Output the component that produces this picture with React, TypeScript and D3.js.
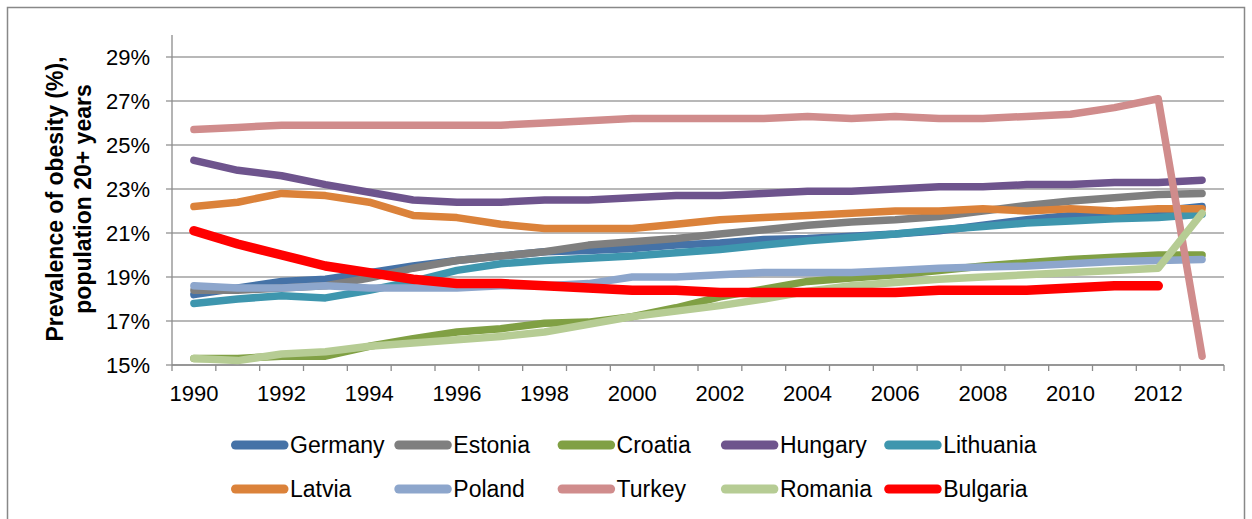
import React from "react";
import * as d3 from "d3";

const years = [1990,1991,1992,1993,1994,1995,1996,1997,1998,1999,2000,2001,2002,2003,2004,2005,2006,2007,2008,2009,2010,2011,2012,2013];
const xTickLabels = [1990,1992,1994,1996,1998,2000,2002,2004,2006,2008,2010,2012];
const yTicks = [15,17,19,21,23,25,27,29];

const germany = [18.2,18.5,18.8,18.9,19.2,19.5,19.75,19.95,20.15,20.2,20.3,20.45,20.55,20.7,20.75,20.85,20.95,21.1,21.35,21.6,21.8,21.9,22.0,22.2];
const estonia = [18.4,18.4,18.5,18.6,18.95,19.4,19.75,19.95,20.15,20.45,20.6,20.75,20.95,21.15,21.35,21.5,21.6,21.75,22.0,22.25,22.45,22.6,22.75,22.8];
const croatia = [15.3,15.3,15.4,15.4,15.85,16.2,16.5,16.65,16.9,16.95,17.2,17.6,18.1,18.45,18.8,18.95,19.1,19.3,19.5,19.65,19.8,19.9,20.0,20.0];
const hungary = [24.3,23.85,23.6,23.2,22.85,22.5,22.4,22.4,22.5,22.5,22.6,22.7,22.7,22.8,22.9,22.9,23.0,23.1,23.1,23.2,23.2,23.3,23.3,23.4];
const lithuania = [17.8,18.0,18.15,18.05,18.4,18.8,19.3,19.6,19.75,19.85,19.95,20.1,20.25,20.45,20.65,20.8,20.95,21.15,21.3,21.45,21.55,21.65,21.7,21.85];
const latvia = [22.2,22.4,22.8,22.7,22.4,21.8,21.7,21.4,21.2,21.2,21.2,21.4,21.6,21.7,21.8,21.9,22.0,22.0,22.1,22.0,22.1,22.0,22.1,22.1];
const poland = [18.6,18.5,18.5,18.6,18.5,18.5,18.5,18.6,18.6,18.7,19.0,19.0,19.1,19.2,19.2,19.2,19.3,19.4,19.45,19.5,19.6,19.7,19.75,19.8];
const turkey = [25.7,25.8,25.9,25.9,25.9,25.9,25.9,25.9,26.0,26.1,26.2,26.2,26.2,26.2,26.3,26.2,26.3,26.2,26.2,26.3,26.4,26.7,27.1,15.4];
const romania = [15.3,15.2,15.5,15.6,15.85,16.0,16.15,16.3,16.5,16.85,17.2,17.45,17.7,18.0,18.35,18.6,18.75,18.9,19.0,19.1,19.2,19.3,19.4,21.9];
const bulgaria = [21.1,20.5,20.0,19.5,19.2,18.9,18.7,18.7,18.6,18.5,18.4,18.4,18.3,18.3,18.3,18.3,18.3,18.4,18.4,18.4,18.5,18.6,18.6,null];

const seriesNames = ["Germany","Estonia","Croatia","Hungary","Lithuania","Latvia","Poland","Turkey","Romania","Bulgaria"];
const seriesValues = [germany,estonia,croatia,hungary,lithuania,latvia,poland,turkey,romania,bulgaria];
const seriesColors = ["#4572A7","#7F7F7F","#80A044","#6E548D","#3E96AE","#DB823A","#8DA6CC","#D08C8C","#B6CC94","#FF0000"];
const seriesWidths = [7.5,7.5,7.5,7.5,7.5,7.5,7.5,7.5,7.5,9.5];

const FONT = "'Liberation Sans', Arial, sans-serif";

export default function App() {
  const left = 172, right = 1224, top = 35, bottom = 365;
  const x = d3.scaleBand<number>().domain(years).range([left, right]).paddingInner(0).paddingOuter(0);
  const y = d3.scaleLinear().domain([15, 30]).range([bottom, top]);
  const cx = (yr: number) => (x(yr) as number) + x.bandwidth() / 2;

  const line = d3
    .line<{ yr: number; v: number | null }>()
    .defined((d) => d.v !== null)
    .x((d) => cx(d.yr))
    .y((d) => y(d.v as number));

  const boundaries = [...years.map((yr) => x(yr) as number), right];

  return (
    <svg width={1252} height={519} style={{ position: "absolute", left: 0, top: 0, background: "#fff" }} fontFamily={FONT}>
      <rect x={0} y={0} width={1252} height={519} fill="#fff" />
      <path d={`M7.5,530 V7.5 H1244.5 V530`} fill="none" stroke="#888" strokeWidth={1.5} />
      {yTicks.map((t) => (
        <line key={t} x1={left - 6} x2={right} y1={y(t)} y2={y(t)} stroke="#A0A0A0" strokeWidth={1.3} />
      ))}
      <line x1={left} x2={left} y1={top} y2={bottom} stroke="#8C8C8C" strokeWidth={1.3} />
      <line x1={left} x2={right} y1={bottom} y2={bottom} stroke="#8C8C8C" strokeWidth={1.3} />
      {boundaries.map((bx, i) => (
        <line key={i} x1={bx} x2={bx} y1={bottom} y2={bottom + 6} stroke="#8C8C8C" strokeWidth={1.3} />
      ))}
      {yTicks.map((t) => (
        <text key={t} x={150} y={y(t)} dy="0.36em" textAnchor="end" fontSize={22} fill="#000">
          {t}%
        </text>
      ))}
      {xTickLabels.map((yr) => (
        <text key={yr} x={cx(yr)} y={401} textAnchor="middle" fontSize={22} fill="#000">
          {yr}
        </text>
      ))}
      <g transform="translate(63,199) rotate(-90)">
        <text x={0} y={0} textAnchor="middle" fontSize={23} fontWeight="bold" fill="#000">
          Prevalence of obesity (%),
        </text>
        <text x={0} y={28} textAnchor="middle" fontSize={23} fontWeight="bold" fill="#000">
          population 20+ years
        </text>
      </g>
      {seriesValues.map((vals, i) => (
        <path
          key={seriesNames[i]}
          d={line(vals.map((v, j) => ({ yr: years[j], v }))) || ""}
          fill="none"
          stroke={seriesColors[i]}
          strokeWidth={seriesWidths[i]}
          strokeLinecap="round"
          strokeLinejoin="round"
        />
      ))}
      {seriesNames.map((name, i) => {
        const col = i % 5;
        const row = Math.floor(i / 5);
        const lx = 231 + col * 163.3;
        const ly = 445 + row * 44;
        return (
          <g key={name}>
            <line x1={lx + 4.5} x2={lx + 53} y1={ly} y2={ly} stroke={seriesColors[i]} strokeWidth={9} strokeLinecap="round" />
            <text x={lx + 59} y={ly} dy="0.36em" fontSize={23} fill="#000">
              {name}
            </text>
          </g>
        );
      })}
    </svg>
  );
}
